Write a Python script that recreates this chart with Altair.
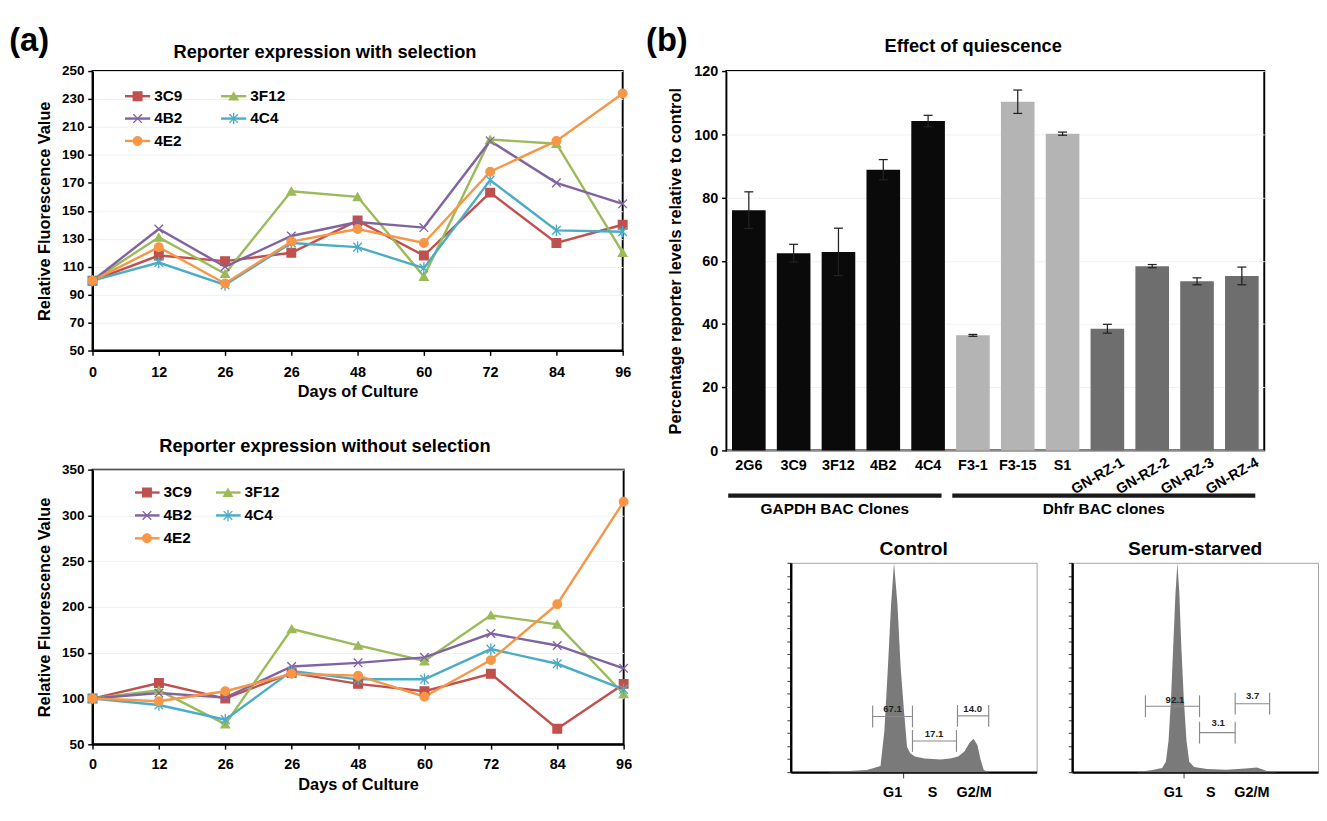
import altair as alt
import pandas as pd

# ---------------- data ----------------
day_labels = ["0", "12", "26", "26", "48", "60", "72", "84", "96"]
clone_series = ["3C9", "3F12", "4B2", "4C4", "4E2"]

with_sel_3C9 = [100, 118, 114, 120, 143, 118, 163, 127, 140]
with_sel_3F12 = [100, 131, 105, 164, 160, 103, 201, 198, 120]
with_sel_4B2 = [100, 137, 110, 132, 142, 138, 200, 170, 155]
with_sel_4C4 = [100, 113, 97, 127, 124, 109, 172, 136, 135]
with_sel_4E2 = [100, 124, 98, 128, 137, 127, 178, 200, 234]

no_sel_3C9 = [100, 117, 100, 128, 116, 108, 127, 67, 116]
no_sel_3F12 = [100, 109, 72, 176, 158, 141, 191, 181, 105]
no_sel_4B2 = [100, 106, 101, 135, 139, 145, 171, 158, 133]
no_sel_4C4 = [100, 93, 77, 130, 121, 121, 154, 138, 110]
no_sel_4E2 = [100, 97, 108, 127, 125, 102, 142, 203, 315]

bar_clones = ["2G6", "3C9", "3F12", "4B2", "4C4", "F3-1", "F3-15", "S1",
              "GN-RZ-1", "GN-RZ-2", "GN-RZ-3", "GN-RZ-4"]
bar_values = [76.0, 62.4, 62.8, 88.8, 104.2, 36.4, 110.3, 100.2, 38.5, 58.3, 53.5, 55.2]
bar_errors = [5.8, 2.8, 7.5, 3.2, 1.8, 0.3, 3.7, 0.5, 1.4, 0.5, 1.1, 2.8]
bar_group = ["GAPDH"] * 5 + ["Dhfr-F"] * 3 + ["Dhfr-GN"] * 4
group_names = ["GAPDH BAC Clones", "Dhfr BAC clones"]
group_start = [0, 5]
group_end = [4, 11]

# DNA-content histograms (channel 0-1000, height as fraction of the panel)
ctrl_channel = [0, 150, 219, 310, 365, 381, 395, 408, 420, 434, 447, 460, 473, 486,
                505, 544, 609, 648, 681, 707, 727, 743, 759, 772, 785, 805, 1000]
ctrl_count = [0, 0, 0.005, 0.01, 0.03, 0.2, 0.5, 0.8, 1.0, 0.8, 0.5, 0.3, 0.12, 0.09,
              0.075, 0.065, 0.06, 0.065, 0.075, 0.1, 0.14, 0.16, 0.13, 0.06, 0.01, 0, 0]
serum_channel = [0, 261, 326, 366, 381, 392, 402, 411, 420, 428, 436, 444, 454, 465,
                 476, 496, 548, 627, 705, 751, 770, 796, 836, 1000]
serum_count = [0, 0, 0.01, 0.02, 0.05, 0.15, 0.35, 0.6, 0.85, 1.0, 0.85, 0.6, 0.35, 0.15,
               0.05, 0.025, 0.015, 0.012, 0.018, 0.022, 0.015, 0.003, 0, 0]

ctrl_gate_labels = ["67.1", "17.1", "14.0"]
ctrl_gate_start = [333, 495, 678]
ctrl_gate_end = [495, 674, 805]
ctrl_gate_level = [0.266, 0.149, 0.269]
ctrl_label_x = [414, 583, 740]
ctrl_label_level = [0.30, 0.183, 0.30]

serum_gate_labels = ["92.1", "3.1", "3.7"]
serum_gate_start = [298, 518, 663]
serum_gate_end = [518, 663, 803]
serum_gate_level = [0.315, 0.189, 0.327]
serum_label_x = [418, 594, 734]
serum_label_level = [0.346, 0.233, 0.361]

phase_names = ["G1", "S", "G2/M"]
ctrl_phase_x = [414, 577, 746]
serum_phase_x = [411, 564, 731]
ctrl_g1_tick = 457
serum_g1_tick = 454

# ---------------- styles ----------------
NARROW = "Liberation Sans Narrow, Arial Narrow, Liberation Sans, Arial, sans-serif"
SANS = "Liberation Sans, Arial, sans-serif"
series_colors = ["#C0504D", "#9BBB59", "#8064A2", "#4BACC6", "#F79646"]
series_shapes = ["square", "triangle-up", "M-1,-1L1,1M-1,1L1,-1",
                 "M-1,-1L1,1M-1,1L1,-1M0,-1.35L0,1.35", "circle"]
group_colors = {"GAPDH": "#0a0a0a", "Dhfr-F": "#b4b4b4", "Dhfr-GN": "#6e6e6e"}


def text_chart(txt, x, y, size, font=SANS, align="center"):
    return alt.Chart(pd.DataFrame({"t": [txt]})).mark_text(
        font=font, fontSize=size, fontWeight="bold", color="black", align=align, baseline="middle"
    ).encode(x=alt.value(x), y=alt.value(y), text="t:N")


def line_panel(data, title, ymin, ymax, ystep, w, h, leg, title_pos, xpad, panel_label=None):
    rows = [{"series": s, "idx": i, "value": v} for s in clone_series for i, v in enumerate(data[s])]
    df = pd.DataFrame(rows)
    cs = alt.Scale(domain=clone_series, range=series_colors)
    ss = alt.Scale(domain=clone_series, range=series_shapes)
    label_expr = "[" + ",".join("'" + d + "'" for d in day_labels) + "][datum.value]"
    xs = alt.Scale(domain=[0, len(day_labels) - 1], nice=False, zero=False)
    ys = alt.Scale(domain=[ymin, ymax], nice=False, zero=False)
    xa = alt.Axis(
        values=list(range(len(day_labels))), labelExpr=label_expr, title="Days of Culture",
        grid=False, domainColor="black", domainWidth=2, tickColor="black", tickSize=5, tickWidth=1.5,
        labelFont=NARROW, labelFontSize=15, labelFontWeight="bold", labelColor="black",
        labelPadding=xpad[0], labelFlush=False, labelOverlap=False,
        titleFont=SANS, titleFontSize=17, titleFontWeight="bold", titleColor="black",
        titlePadding=xpad[1])
    ya = alt.Axis(
        values=list(range(ymin, ymax + 1, ystep)), title="Relative Fluorescence Value",
        grid=True, gridColor="#eeeeee", gridWidth=1, domainColor="black", domainWidth=2,
        tickColor="black", tickSize=5, tickWidth=1.5, labelOverlap=False, labelFlush=False,
        labelFont=NARROW, labelFontSize=14, labelFontWeight="bold", labelColor="black", labelPadding=4,
        titleFont=SANS, titleFontSize=17, titleFontWeight="bold", titleColor="black", titlePadding=8)
    base = alt.Chart(df)
    lines = base.mark_line(strokeWidth=2.5).encode(
        x=alt.X("idx:Q", scale=xs, axis=xa), y=alt.Y("value:Q", scale=ys, axis=ya),
        color=alt.Color("series:N", scale=cs, legend=None))
    pts = base.mark_point(filled=True, size=80, strokeWidth=1.4, opacity=1).encode(
        x=alt.X("idx:Q", scale=xs, axis=xa), y=alt.Y("value:Q", scale=ys, axis=ya),
        fill=alt.Fill("series:N", scale=cs, legend=None),
        stroke=alt.Stroke("series:N", scale=cs, legend=None),
        shape=alt.Shape("series:N", scale=ss, legend=None))

    # in-plot legend (positions in data units)
    lg = pd.DataFrame({"series": clone_series, "col": [0, 1, 0, 1, 0], "row": [0, 0, 1, 1, 2]})
    x0, x1, xm, xt, dxc, y0, dyr = leg
    lb = alt.Chart(lg).transform_calculate(
        lx0=f"{x0} + datum.col * {dxc}", lx1=f"{x1} + datum.col * {dxc}",
        lxm=f"{xm} + datum.col * {dxc}", lxt=f"{xt} + datum.col * {dxc}",
        ly=f"{y0} - datum.row * {dyr}")
    leg_line = lb.mark_rule(strokeWidth=2.5).encode(
        x=alt.X("lx0:Q", scale=xs, axis=xa), x2="lx1:Q", y=alt.Y("ly:Q", scale=ys, axis=ya),
        color=alt.Color("series:N", scale=cs, legend=None))
    leg_pt = lb.mark_point(filled=True, size=80, strokeWidth=1.4, opacity=1).encode(
        x=alt.X("lxm:Q", scale=xs, axis=xa), y=alt.Y("ly:Q", scale=ys, axis=ya),
        fill=alt.Fill("series:N", scale=cs, legend=None),
        stroke=alt.Stroke("series:N", scale=cs, legend=None),
        shape=alt.Shape("series:N", scale=ss, legend=None))
    leg_txt = lb.mark_text(font=NARROW, fontSize=16, fontWeight="bold", color="black",
                           align="left", baseline="middle").encode(
        x=alt.X("lxt:Q", scale=xs, axis=xa), y=alt.Y("ly:Q", scale=ys, axis=ya), text="series:N")
    layers = [lines, pts, leg_line, leg_pt, leg_txt,
              text_chart(title, title_pos[0], title_pos[1], 19)]
    if panel_label:
        layers.append(text_chart(panel_label, -66, -31, 34))
    return alt.layer(*layers).properties(
        width=w, height=h, view=alt.ViewBackground(stroke="black", strokeWidth=2))


top = line_panel(
    {"3C9": with_sel_3C9, "3F12": with_sel_3F12, "4B2": with_sel_4B2, "4C4": with_sel_4C4, "4E2": with_sel_4E2},
    "Reporter expression with selection", 50, 250, 20, 552, 291,
    (0.49, 0.87, 0.68, 0.93, 1.45, 232, 16), (242, -20), (10, 5), "(a)")
bottom = line_panel(
    {"3C9": no_sel_3C9, "3F12": no_sel_3F12, "4B2": no_sel_4B2, "4C4": no_sel_4C4, "4E2": no_sel_4E2},
    "Reporter expression without selection", 50, 350, 50, 553, 286,
    (0.64, 1.01, 0.82, 1.07, 1.22, 325, 25), (242, -24), (8, 6))

# ---------------- bar chart ----------------
BW, BH = 560, 395
bdf = pd.DataFrame({"clone": bar_clones, "value": bar_values, "err": bar_errors,
                    "grp": bar_group, "idx": list(range(len(bar_clones)))})
bb = alt.Chart(bdf).transform_calculate(
    x0="datum.idx - 0.375", x1="datum.idx + 0.375",
    lo="datum.value - datum.err", hi="datum.value + datum.err",
    c0="datum.idx - 0.1", c1="datum.idx + 0.1", lx="datum.idx + 0.27")
bxs = alt.Scale(domain=[-0.5, len(bar_clones) - 0.5], nice=False, zero=False)
bys = alt.Scale(domain=[0, 120], nice=False)
bxa = alt.Axis(labels=False, ticks=False, domain=False, grid=False, title=None)
bya = alt.Axis(
    values=list(range(0, 121, 20)), title="Percentage reporter levels relative to control",
    grid=True, gridColor="#f0f0f0", domain=False, tickColor="black", tickSize=5, tickWidth=1.5,
    labelFont=NARROW, labelFontSize=15, labelFontWeight="bold", labelColor="black", labelPadding=4,
    labelOverlap=False,
    titleFont=SANS, titleFontSize=17, titleFontWeight="bold", titleColor="black", titlePadding=10)
bars = bb.mark_bar().encode(
    x=alt.X("x0:Q", scale=bxs, axis=bxa), x2="x1:Q",
    y=alt.Y("value:Q", scale=bys, axis=bya), y2=alt.datum(0),
    color=alt.Color("grp:N", scale=alt.Scale(domain=list(group_colors), range=list(group_colors.values())),
                    legend=None))
err_v = bb.mark_rule(color="#222222", strokeWidth=1.3).encode(
    x=alt.X("idx:Q", scale=bxs, axis=bxa), y=alt.Y("lo:Q", scale=bys, axis=bya), y2="hi:Q")
cap_hi = bb.mark_rule(color="#222222", strokeWidth=1.3).encode(
    x=alt.X("c0:Q", scale=bxs, axis=bxa), x2="c1:Q", y=alt.Y("hi:Q", scale=bys, axis=bya))
cap_lo = bb.mark_rule(color="#222222", strokeWidth=1.3).encode(
    x=alt.X("c0:Q", scale=bxs, axis=bxa), x2="c1:Q", y=alt.Y("lo:Q", scale=bys, axis=bya))
lab_flat = bb.transform_filter("datum.idx < 8").mark_text(
    font=NARROW, fontSize=15, fontWeight="bold", color="black", baseline="middle").encode(
    x=alt.X("idx:Q", scale=bxs, axis=bxa), y=alt.value(BH + 15), text="clone:N")
lab_rot = bb.transform_filter("datum.idx >= 8").mark_text(
    font=NARROW, fontSize=15, fontWeight="bold", color="black", angle=330,
    align="right", baseline="top").encode(
    x=alt.X("lx:Q", scale=bxs, axis=bxa), y=alt.value(BH + 5), text="clone:N")
gdf = pd.DataFrame({"name": group_names, "s": group_start, "e": group_end})
gb = alt.Chart(gdf).transform_calculate(
    gx0="datum.s - 0.46", gx1="datum.e + 0.3", gm="(datum.s - 0.46 + datum.e + 0.3) / 2")
g_rule = gb.mark_rule(strokeWidth=4.5, color="#1a1a1a").encode(
    x=alt.X("gx0:Q", scale=bxs, axis=bxa), x2="gx1:Q", y=alt.value(BH + 47))
g_text = gb.mark_text(font=SANS, fontSize=16, fontWeight="bold", color="black", baseline="middle").encode(
    x=alt.X("gm:Q", scale=bxs, axis=bxa), y=alt.value(BH + 61), text="name:N")
bar_chart = alt.layer(
    bars, err_v, cap_hi, cap_lo, lab_flat, lab_rot, g_rule, g_text,
    text_chart("Effect of quiescence", 257, -26, 19),
    text_chart("(b)", -62, -31, 34)
).properties(width=BW, height=BH, view=alt.ViewBackground(stroke="black", strokeWidth=2))


# ---------------- histograms ----------------
def hist_panel(chan, cnt, glabels, gs, ge, gl, lx, ll, phase_x, g1_tick, title, w, h):
    hdf = pd.DataFrame({"ch": chan, "count": cnt})
    xs = alt.Scale(domain=[0, 1000], nice=False, zero=False)
    ys = alt.Scale(domain=[0, 1], nice=False, zero=False)
    hxa = alt.Axis(values=[g1_tick], labels=False, tickSize=6, tickColor="#333333", tickWidth=1,
                   domainColor="black", domainWidth=2.5, grid=False, title=None)
    hya = alt.Axis(values=[i / 16 for i in range(17)], labels=False, tickSize=4, tickColor="#333333",
                   tickWidth=1, domainColor="black", domainWidth=2.5, grid=False, title=None)
    area = alt.Chart(hdf).mark_area(color="#7a7a7a", opacity=1).encode(
        x=alt.X("ch:Q", scale=xs, axis=hxa), y=alt.Y("count:Q", scale=ys, axis=hya))
    gdf2 = pd.DataFrame({"lab": glabels, "s": gs, "e": ge, "lvl": gl, "lx": lx, "ll": ll})
    gbase = alt.Chart(gdf2).transform_calculate(lo="datum.lvl - 0.052", hi="datum.lvl + 0.052")
    hrule = gbase.mark_rule(color="#8a8a8a", strokeWidth=1.2).encode(
        x=alt.X("s:Q", scale=xs, axis=hxa), x2="e:Q", y=alt.Y("lvl:Q", scale=ys, axis=hya))
    vl = gbase.mark_rule(color="#8a8a8a", strokeWidth=1.2).encode(
        x=alt.X("s:Q", scale=xs, axis=hxa), y=alt.Y("lo:Q", scale=ys, axis=hya), y2="hi:Q")
    vr = gbase.mark_rule(color="#8a8a8a", strokeWidth=1.2).encode(
        x=alt.X("e:Q", scale=xs, axis=hxa), y=alt.Y("lo:Q", scale=ys, axis=hya), y2="hi:Q")
    gtxt = gbase.mark_text(font=SANS, fontSize=10, fontWeight="bold", color="#222222", baseline="middle").encode(
        x=alt.X("lx:Q", scale=xs, axis=hxa), y=alt.Y("ll:Q", scale=ys, axis=hya), text="lab:N")
    pdf = pd.DataFrame({"phase": phase_names, "px": phase_x})
    ptxt = alt.Chart(pdf).mark_text(font=SANS, fontSize=15, fontWeight="bold", color="black",
                                    baseline="middle").encode(
        x=alt.X("px:Q", scale=xs, axis=hxa), y=alt.value(h + 21), text="phase:N")
    return alt.layer(area, hrule, vl, vr, gtxt, ptxt, text_chart(title, w / 2, -14, 20)).properties(
        width=w, height=h, view=alt.ViewBackground(stroke="#a0a0a0", strokeWidth=1))


HW, HH = 256, 218
ctrl = hist_panel(ctrl_channel, ctrl_count, ctrl_gate_labels, ctrl_gate_start, ctrl_gate_end,
                  ctrl_gate_level, ctrl_label_x, ctrl_label_level, ctrl_phase_x, ctrl_g1_tick,
                  "Control", HW, HH)
serum = hist_panel(serum_channel, serum_count, serum_gate_labels, serum_gate_start, serum_gate_end,
                   serum_gate_level, serum_label_x, serum_label_level, serum_phase_x, serum_g1_tick,
                   "Serum-starved", HW, HH)
spacer = alt.Chart(pd.DataFrame({"a": [0]})).mark_point(opacity=0).encode(
    x=alt.value(0), y=alt.value(0)).properties(
    width=30, height=10, view=alt.ViewBackground(stroke="transparent"))

left = alt.vconcat(top, bottom, spacing=38)
right = alt.vconcat(bar_chart, alt.hconcat(spacer, ctrl, serum, spacing=31), spacing=22)
chart = alt.hconcat(left, right, spacing=12).resolve_scale(
    color="independent").properties(
    padding={"left": 0, "top": 0, "right": 0, "bottom": 0}, background="white")

chart.save("out.html", embed_options={"renderer": "svg", "actions": False})
